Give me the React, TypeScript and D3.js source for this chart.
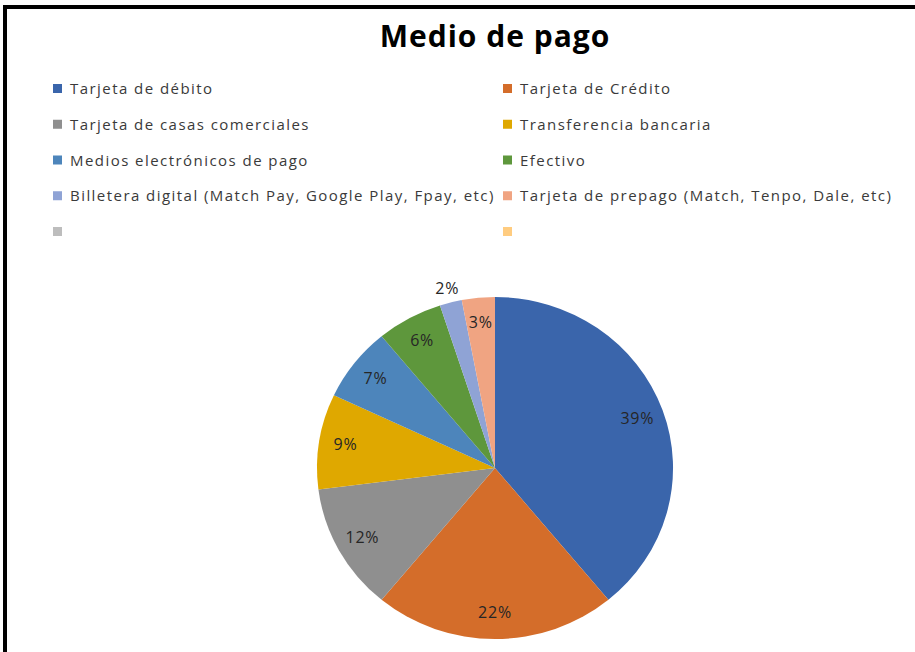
import React, { useEffect, useRef } from "react";
import * as d3 from "d3";

const categories = [
  "Tarjeta de débito",
  "Tarjeta de Crédito",
  "Tarjeta de casas comerciales",
  "Transferencia bancaria",
  "Medios electrónicos de pago",
  "Efectivo",
  "Billetera digital (Match Pay, Google Play, Fpay, etc)",
  "Tarjeta de prepago (Match, Tenpo, Dale, etc)",
  "",
  "",
];
const shares = [39, 22, 12, 9, 7, 6, 2, 3, 0, 0];
const colors = [
  "#3a65ab", "#d46d2a", "#8f8f8f", "#dfa800", "#4d85bb",
  "#5e973c", "#8fa3d5", "#f0a482", "#bdbdbd", "#ffcc80",
];

const W = 915;
const H = 652;

export default function App() {
  const ref = useRef<SVGSVGElement>(null);

  useEffect(() => {
    const svg = d3.select(ref.current);
    svg.selectAll("*").remove();

    svg.append("rect").attr("width", W).attr("height", H).attr("fill", "#fff");
    // frame: only the left and top edges are inside the crop
    svg.append("path")
      .attr("d", `M5,${H} V7 H${W}`)
      .attr("fill", "none")
      .attr("stroke", "#000")
      .attr("stroke-width", 4);

    svg.append("text")
      .attr("x", 495).attr("y", 47)
      .attr("text-anchor", "middle")
      .attr("font-family", "'Open Sans', sans-serif")
      .attr("font-weight", 700)
      .attr("font-size", 30)
      .attr("letter-spacing", 1)
      .attr("fill", "#000")
      .text("Medio de pago");

    // legend, two columns
    const colX = [53, 503];
    const rowY = d3.scaleLinear().domain([0, 4]).range([89, 232]);
    const leg = svg.append("g");
    categories.forEach((c, i) => {
      const x = colX[i % 2];
      const y = rowY(Math.floor(i / 2));
      leg.append("rect")
        .attr("x", x).attr("y", y - 5)
        .attr("width", 9).attr("height", 9)
        .attr("fill", colors[i]);
      leg.append("text")
        .attr("x", x + 17).attr("y", y + 5)
        .attr("font-family", "'Open Sans', sans-serif")
        .attr("font-size", 15)
        .attr("letter-spacing", 1.45)
        .attr("fill", "#3a3a3a")
        .text(c);
    });

    // pie (slightly squashed, as in the picture)
    const cx = 495, cy = 468, rx = 178, ry = 171;
    const pie = d3.pie<number>().sort(null).value((d) => d);
    const arcs = pie(shares);
    const unit = d3.arc<d3.PieArcDatum<number>>().innerRadius(0).outerRadius(1);

    const g = svg.append("g").attr("transform", `translate(${cx},${cy}) scale(${rx},${ry})`);
    g.selectAll("path")
      .data(arcs)
      .enter()
      .append("path")
      .attr("d", unit)
      .attr("fill", (_, i) => colors[i]);

    const lab = svg.append("g").attr("transform", `translate(${cx},${cy})`);
    arcs.forEach((a) => {
      if (a.value <= 0) return;
      const r = a.value < 2.5 ? 1.08 : 0.85;
      const mid = (a.startAngle + a.endAngle) / 2;
      lab.append("text")
        .attr("x", Math.sin(mid) * r * rx)
        .attr("y", -Math.cos(mid) * r * ry + 5)
        .attr("text-anchor", "middle")
        .attr("font-family", "'Open Sans', sans-serif")
        .attr("font-size", 16)
        .attr("letter-spacing", 0.8)
        .attr("fill", "#262626")
        .text(`${a.value}%`);
    });
  }, []);

  return (
    <svg
      ref={ref}
      width={W}
      height={H}
      style={{ position: "absolute", left: 0, top: 0, display: "block" }}
    />
  );
}
